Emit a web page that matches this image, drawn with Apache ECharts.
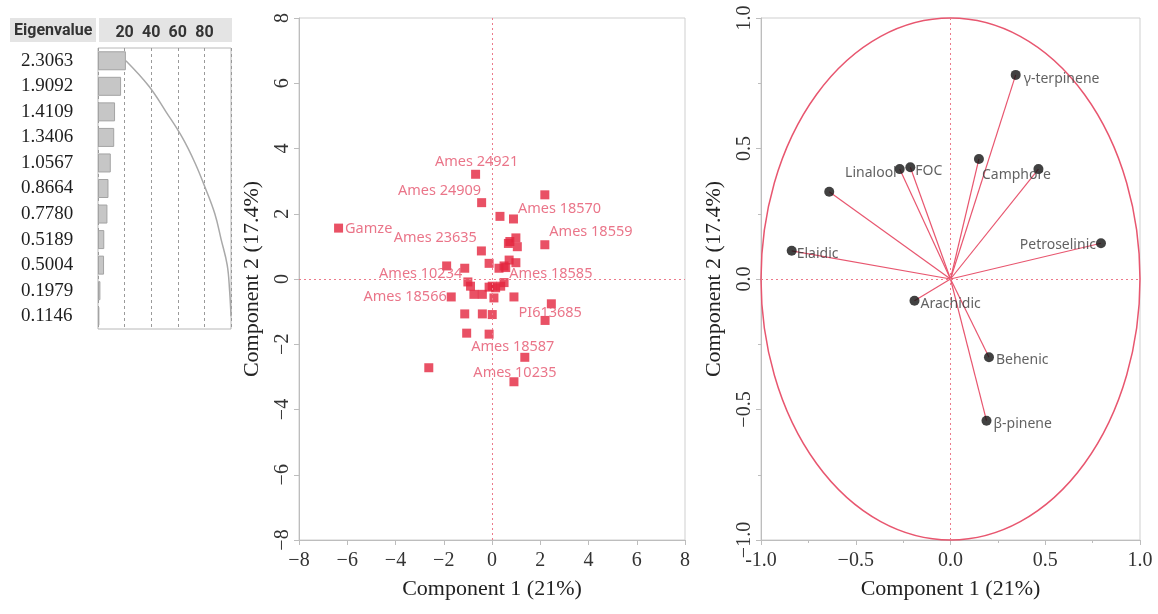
<!DOCTYPE html>
<html><head><meta charset="utf-8">
<script src="https://cdn.jsdelivr.net/npm/echarts@6/dist/echarts.min.js"></script>
<style>html,body{margin:0;padding:0;background:#fff}#c{width:1158px;height:614px}</style>
</head><body><div id="c"></div>
<script>
// ---------------- data ----------------
const eigenvalues = [2.3063, 1.9092, 1.4109, 1.3406, 1.0567, 0.8664, 0.7780, 0.5189, 0.5004, 0.1979, 0.1146];
const percentTicks = [20, 40, 60, 80];

const scoreNames = ['Gamze','Ames 24921','Ames 24909','','','Ames 18570','Ames 18559','','','','',
  'Ames 23635','','','','','','Ames 18585','','Ames 10234','','','','','','','','','','',
  'Ames 18566','PI613685','','','','','','','','Ames 18587','','Ames 10235'];
const scorePC1 = [-6.36,-0.68,-0.43,2.19,0.33,0.89,2.19,0.74,0.99,1.05,0.68,
  -0.44,-0.12,0.71,0.99,0.29,0.50,0.57,-1.88,-1.13,-1.00,-0.89,-0.75,-0.40,-0.12,0.01,0.15,0.36,0.50,0.08,
  -1.69,0.91,2.46,2.20,-1.13,-0.40,0.01,-1.05,-0.12,1.36,-2.62,0.91];
const scorePC2 = [1.56,3.21,2.34,2.58,1.92,1.84,1.05,1.15,1.26,0.99,1.09,
  0.86,0.48,0.58,0.50,0.33,0.40,0.35,0.40,0.33,-0.09,-0.22,-0.47,-0.47,-0.25,-0.22,-0.27,-0.22,-0.11,-0.58,
  -0.55,-0.55,-0.76,-1.27,-1.07,-1.07,-1.09,-1.66,-1.69,-2.40,-2.72,-3.15];

const loadingNames = ['γ-terpinene','Camphore','','Linalool','FOC','','Elaidic','Petroselinic','Arachidic','Behenic','β-pinene'];
const loadingPC1 = [0.344, 0.150, 0.464, -0.268, -0.212, -0.640, -0.838, 0.794, -0.190, 0.203, 0.190];
const loadingPC2 = [0.782, 0.460, 0.421, 0.421, 0.428, 0.334, 0.108, 0.137, -0.083, -0.300, -0.543];
const unitCircle = [[0, 0, 1]];

// ---------------- label placement (style only) ----------------
const scoreLabelPlace = {
  'Gamze': ['right', 2, [0, 1]],
  'Ames 24921': ['top', 0, [1, 0]],
  'Ames 24909': ['left', 0, [4, -12]],
  'Ames 18570': ['right', 0, [0, -10]],
  'Ames 18559': ['right', 0, [0, -13]],
  'Ames 23635': ['left', 0, [0, -13]],
  'Ames 10234': ['left', 0, [2, 6]],
  'Ames 18585': ['right', 0, [-1, 6]],
  'Ames 18566': ['left', 0, [0, 0]],
  'PI613685': ['right', 0, [0, 16]],
  'Ames 18587': ['top', 0, [-12, 2]],
  'Ames 10235': ['top', 0, [1, 3]]
};
const loadingLabelPlace = {
  'γ-terpinene': ['right', 3, [0, 4]],
  'Linalool': ['left', 0, [2, 4]],
  'FOC': ['right', 0, [0, 4]],
  'Camphore': ['right', 0, [-2, 16]],
  'Elaidic': ['right', 0, [0, 3]],
  'Petroselinic': ['left', 0, [0, 2]],
  'Arachidic': ['right', 1, [0, 3]],
  'Behenic': ['right', 2, [0, 3]],
  'β-pinene': ['right', 2, [0, 3]]
};

// ---------------- derived ----------------
const eigTotal = eigenvalues.reduce((a, b) => a + b, 0);
const eigPercent = eigenvalues.map(v => v / eigTotal * 100);
const eigCumulative = [];
eigPercent.reduce((acc, v) => { acc += v; eigCumulative.push(Math.min(acc, 100)); return acc; }, 0);
const eigLabels = eigenvalues.map(v => v.toFixed(4));

const SERIF = 'Liberation Serif';
const SANS = 'Noto Sans';
const RED = '#e4253f';
const LINE_RED = '#e8566f';
const minus = s => String(s).replace('-', '\u2212');

const scoreData = scorePC1.map((x, i) => {
  const name = scoreNames[i];
  const item = { value: [x, scorePC2[i]], name: name };
  if (name && scoreLabelPlace[name]) {
    const p = scoreLabelPlace[name];
    item.label = { show: true, position: p[0], distance: p[1], offset: p[2], formatter: name };
  }
  return item;
});
const loadingData = loadingPC1.map((x, i) => {
  const name = loadingNames[i];
  const item = { value: [x, loadingPC2[i]], name: name };
  if (name && loadingLabelPlace[name]) {
    const p = loadingLabelPlace[name];
    item.label = { show: true, position: p[0], distance: p[1], offset: p[2], formatter: name };
  }
  return item;
});

const frameColor = '#bdbdbd';
function valAxis(gi, min, max, interval, name, isY, fmt, nameGap, margin, minor) {
  return {
    gridIndex: gi, type: 'value', min: min, max: max, interval: interval,
    axisLine: { show: true, onZero: false, lineStyle: { color: frameColor } },
    axisTick: { show: true, length: 5, lineStyle: { color: frameColor } },
    minorTick: { show: !!minor, splitNumber: 2, length: 3, lineStyle: { color: frameColor } },
    splitLine: { show: false },
    axisLabel: { fontFamily: SERIF, fontSize: 20, color: '#333', margin: margin, rotate: isY ? 90 : 0, formatter: fmt },
    name: name, nameLocation: 'middle', nameGap: nameGap, nameRotate: isY ? 90 : 0,
    nameTextStyle: { fontFamily: SERIF, fontSize: 22, color: '#222' }
  };
}

const chart = echarts.init(document.getElementById('c'), null, { renderer: 'canvas' });
chart.setOption({
  backgroundColor: '#fff',
  animation: false,
  graphic: [
    { type: 'rect', left: 10, top: 18, shape: { width: 86, height: 24 }, style: { fill: '#e4e4e4' }, z: -1 },
    { type: 'rect', left: 99, top: 18, shape: { width: 133, height: 24 }, style: { fill: '#e4e4e4' }, z: -1 },
    { type: 'text', left: 14, top: 23, style: { text: 'Eigenvalue', font: 'bold 16px Roboto, sans-serif', fill: '#333' } }
  ],
  grid: [
    { left: 98, width: 133, top: 48, height: 281, show: true, borderColor: '#b8b8b8', borderWidth: 1, backgroundColor: '#fff', outerBoundsMode: 'none' },
    { left: 299, right: 473, top: 18, bottom: 74, show: true, borderColor: '#cfcfcf', borderWidth: 1, outerBoundsMode: 'none' },
    { left: 761, right: 18, top: 18, bottom: 74, show: true, borderColor: '#cfcfcf', borderWidth: 1, outerBoundsMode: 'none' }
  ],
  xAxis: [
    {
      gridIndex: 0, type: 'value', min: 0, max: 100, interval: 20, position: 'top',
      axisLine: { show: false }, axisTick: { show: false },
      splitLine: { show: true, lineStyle: { type: [3, 3], color: '#9a9a9a', width: 1 } },
      axisLabel: { margin: 7, fontFamily: 'Roboto, sans-serif', fontWeight: 'bold', fontSize: 16, color: '#333',
        formatter: v => percentTicks.indexOf(v) >= 0 ? String(v) : '' }
    },
    valAxis(1, -8, 8, 2, 'Component 1 (21%)', false, v => minus(v), 38, 11, false),
    valAxis(2, -1, 1, 0.5, 'Component 1 (21%)', false, v => v === -1 ? '-1.0' : minus(v.toFixed(1)), 38, 11, true)
  ],
  yAxis: [
    {
      gridIndex: 0, type: 'category', data: eigLabels, inverse: true,
      axisLine: { show: false }, axisTick: { show: false }, splitLine: { show: false },
      axisLabel: { align: 'left', margin: 77, fontFamily: SERIF, fontSize: 19, color: '#1e1e1e' }
    },
    valAxis(1, -8, 8, 2, 'Component 2 (17.4%)', true, v => minus(v), 36, 6, false),
    valAxis(2, -1, 1, 0.5, 'Component 2 (17.4%)', true, v => minus(v.toFixed(1)), 36, 6, true)
  ],
  series: [
    {
      type: 'bar', xAxisIndex: 0, yAxisIndex: 0, data: eigPercent, barWidth: 19,
      itemStyle: { color: '#c6c6c6', borderColor: '#a3a3a3', borderWidth: 1 }, silent: true
    },
    {
      type: 'line', xAxisIndex: 0, yAxisIndex: 0, data: eigCumulative, smooth: 0.4, symbol: 'none',
      lineStyle: { color: '#a9a9a9', width: 1.5 }, silent: true
    },
    {
      type: 'scatter', xAxisIndex: 1, yAxisIndex: 1, data: scoreData, symbol: 'rect', symbolSize: 9,
      itemStyle: { color: RED },
      label: { show: false, color: '#e5526b', fontFamily: SANS, fontSize: 14.5 },
      markLine: {
        silent: true, symbol: ['none', 'none'], label: { show: false },
        lineStyle: { type: [2, 3], color: '#ec7a8a', width: 1 },
        data: [{ xAxis: 0 }, { yAxis: 0 }]
      },
      z: 3
    },
    {
      type: 'custom', xAxisIndex: 2, yAxisIndex: 2, data: unitCircle, silent: true,
      renderItem: function (params, api) {
        const cx = api.value(0), cy = api.value(1), r = api.value(2);
        const c = api.coord([cx, cy]);
        const px = api.coord([cx + r, cy]);
        const py = api.coord([cx, cy + r]);
        const rx = px[0] - c[0], ry = c[1] - py[1];
        const d = 'M ' + (c[0] - rx) + ' ' + c[1] +
          ' A ' + rx + ' ' + ry + ' 0 1 0 ' + (c[0] + rx) + ' ' + c[1] +
          ' A ' + rx + ' ' + ry + ' 0 1 0 ' + (c[0] - rx) + ' ' + c[1] + ' Z';
        return { type: 'path', shape: { pathData: d }, style: { fill: 'none', stroke: LINE_RED, lineWidth: 1.5 } };
      },
      z: 2
    },
    {
      type: 'custom', xAxisIndex: 2, yAxisIndex: 2, data: loadingPC1.map((x, i) => [x, loadingPC2[i]]), silent: true,
      renderItem: function (params, api) {
        const o = api.coord([0, 0]);
        const p = api.coord([api.value(0), api.value(1)]);
        return { type: 'line', shape: { x1: o[0], y1: o[1], x2: p[0], y2: p[1] }, style: { stroke: LINE_RED, lineWidth: 1.2 } };
      },
      z: 3
    },
    {
      type: 'scatter', xAxisIndex: 2, yAxisIndex: 2, data: loadingData, symbol: 'circle', symbolSize: 10,
      itemStyle: { color: '#111' },
      label: { show: false, color: '#3a3a3a', fontFamily: SANS, fontSize: 14 },
      markLine: {
        silent: true, symbol: ['none', 'none'], label: { show: false },
        lineStyle: { type: [2, 3], color: '#ec7a8a', width: 1 },
        data: [{ xAxis: 0 }, { yAxis: 0 }]
      },
      z: 4
    }
  ]
});
</script>
</body></html>
